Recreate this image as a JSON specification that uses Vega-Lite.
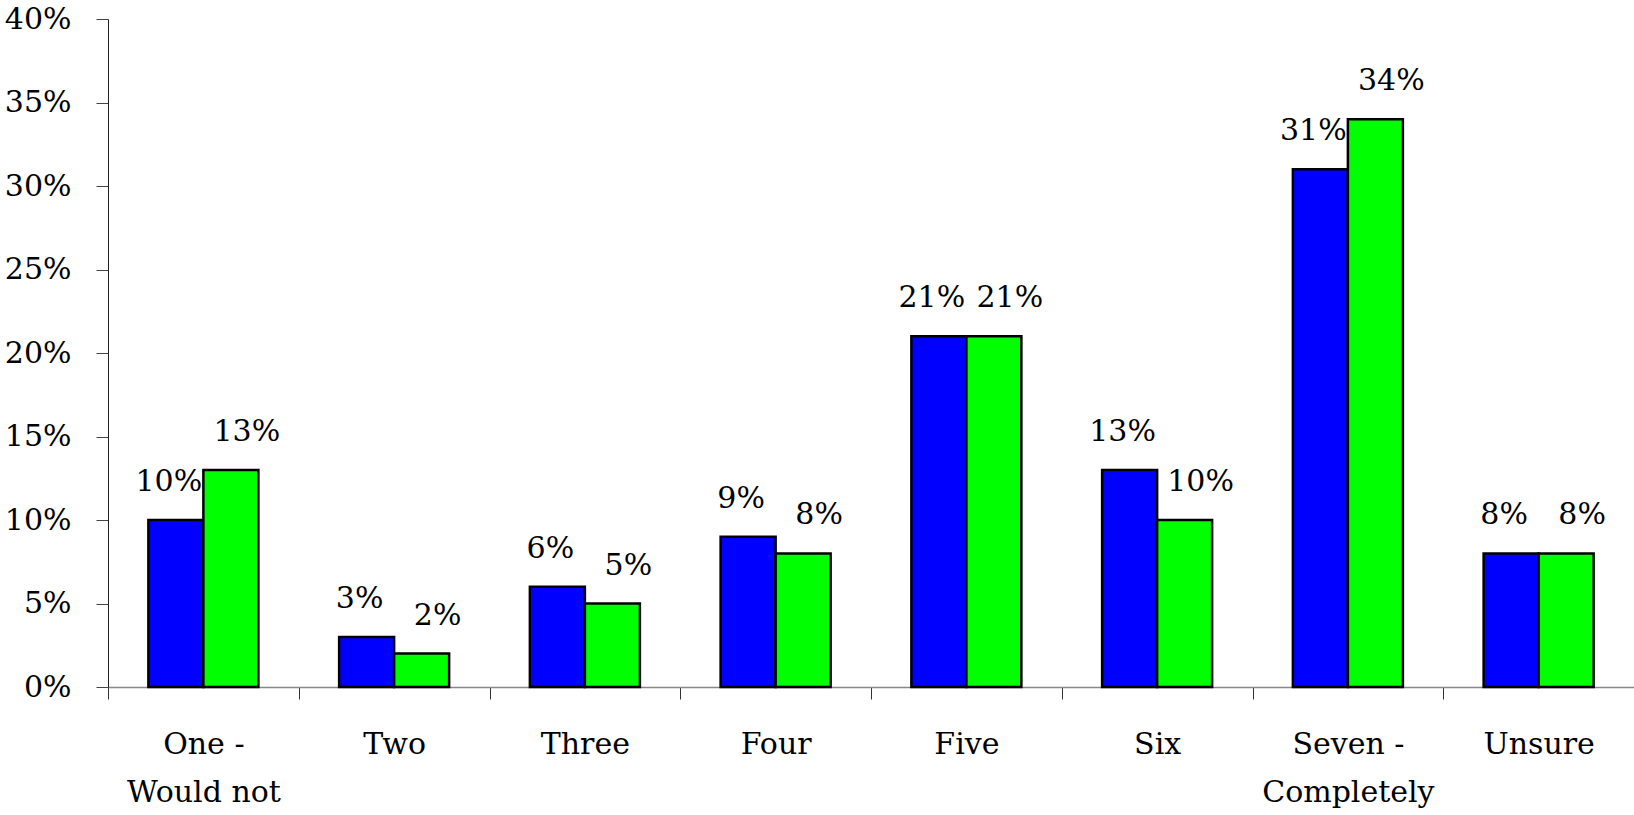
{
  "$schema": "https://vega.github.io/schema/vega-lite/v6.json",
  "width": 1526,
  "height": 668,
  "autosize": {"type": "none"},
  "padding": {"left": 108, "top": 19, "right": 0, "bottom": 128},
  "background": "white",
  "config": {
    "view": {"stroke": null},
    "font": "DejaVu Serif"
  },
  "data": {
    "values": [
      {"category": "One - Would not", "series": "Group 1", "value": 0.10},
      {"category": "One - Would not", "series": "Group 2", "value": 0.13},
      {"category": "Two", "series": "Group 1", "value": 0.03},
      {"category": "Two", "series": "Group 2", "value": 0.02},
      {"category": "Three", "series": "Group 1", "value": 0.06},
      {"category": "Three", "series": "Group 2", "value": 0.05},
      {"category": "Four", "series": "Group 1", "value": 0.09},
      {"category": "Four", "series": "Group 2", "value": 0.08},
      {"category": "Five", "series": "Group 1", "value": 0.21},
      {"category": "Five", "series": "Group 2", "value": 0.21},
      {"category": "Six", "series": "Group 1", "value": 0.13},
      {"category": "Six", "series": "Group 2", "value": 0.10},
      {"category": "Seven - Completely", "series": "Group 1", "value": 0.31},
      {"category": "Seven - Completely", "series": "Group 2", "value": 0.34},
      {"category": "Unsure", "series": "Group 1", "value": 0.08},
      {"category": "Unsure", "series": "Group 2", "value": 0.08}
    ]
  },
  "encoding": {
    "x": {
      "field": "category",
      "type": "nominal",
      "sort": null,
      "scale": {"paddingInner": 0, "paddingOuter": 0},
      "axis": {
        "title": null,
        "labelAngle": 0,
        "labelFont": "DejaVu Serif",
        "labelFontSize": 30,
        "labelColor": "black",
        "labelBaseline": "top",
        "labelPadding": 30,
        "labelLineHeight": 48,
        "labelExpr": "datum.label == 'One - Would not' ? ['One -', 'Would not'] : datum.label == 'Seven - Completely' ? ['Seven -', 'Completely'] : datum.label",
        "tickBand": "extent",
        "tickSize": 12,
        "tickColor": "#333333",
        "domainColor": "#888888",
        "domainWidth": 1.5,
        "tickWidth": 1
      }
    },
    "xOffset": {
      "field": "series",
      "type": "nominal",
      "scale": {"paddingInner": 0, "paddingOuter": 0.734}
    },
    "y": {
      "field": "value",
      "type": "quantitative",
      "scale": {"domain": [0, 0.4], "nice": false},
      "axis": {
        "title": null,
        "values": [0, 0.05, 0.1, 0.15, 0.2, 0.25, 0.3, 0.35, 0.4],
        "format": ".0%",
        "labelFont": "DejaVu Serif",
        "labelFontSize": 30,
        "labelColor": "black",
        "labelPadding": 25,
        "tickSize": 12,
        "tickColor": "#444444",
        "domainColor": "#222222",
        "grid": false,
        "tickWidth": 1,
        "domainWidth": 1
      }
    }
  },
  "layer": [
    {
      "mark": {"type": "bar", "stroke": "black", "strokeWidth": 2.5},
      "encoding": {
        "color": {
          "field": "series",
          "type": "nominal",
          "scale": {"domain": ["Group 1", "Group 2"], "range": ["#0000FF", "#00FF00"]},
          "legend": null
        }
      }
    },
    {
      "transform": [{"filter": "datum.series == 'Group 1'"}],
      "mark": {"type": "text", "font": "DejaVu Serif", "fontSize": 30, "baseline": "alphabetic", "align": "center", "dy": -29, "dx": -7, "color": "black"},
      "encoding": {"text": {"field": "value", "type": "quantitative", "format": ".0%"}}
    },
    {
      "transform": [{"filter": "datum.series == 'Group 2'"}],
      "mark": {"type": "text", "font": "DejaVu Serif", "fontSize": 30, "baseline": "alphabetic", "align": "center", "dy": -29, "dx": 16, "color": "black"},
      "encoding": {"text": {"field": "value", "type": "quantitative", "format": ".0%"}}
    }
  ]
}
